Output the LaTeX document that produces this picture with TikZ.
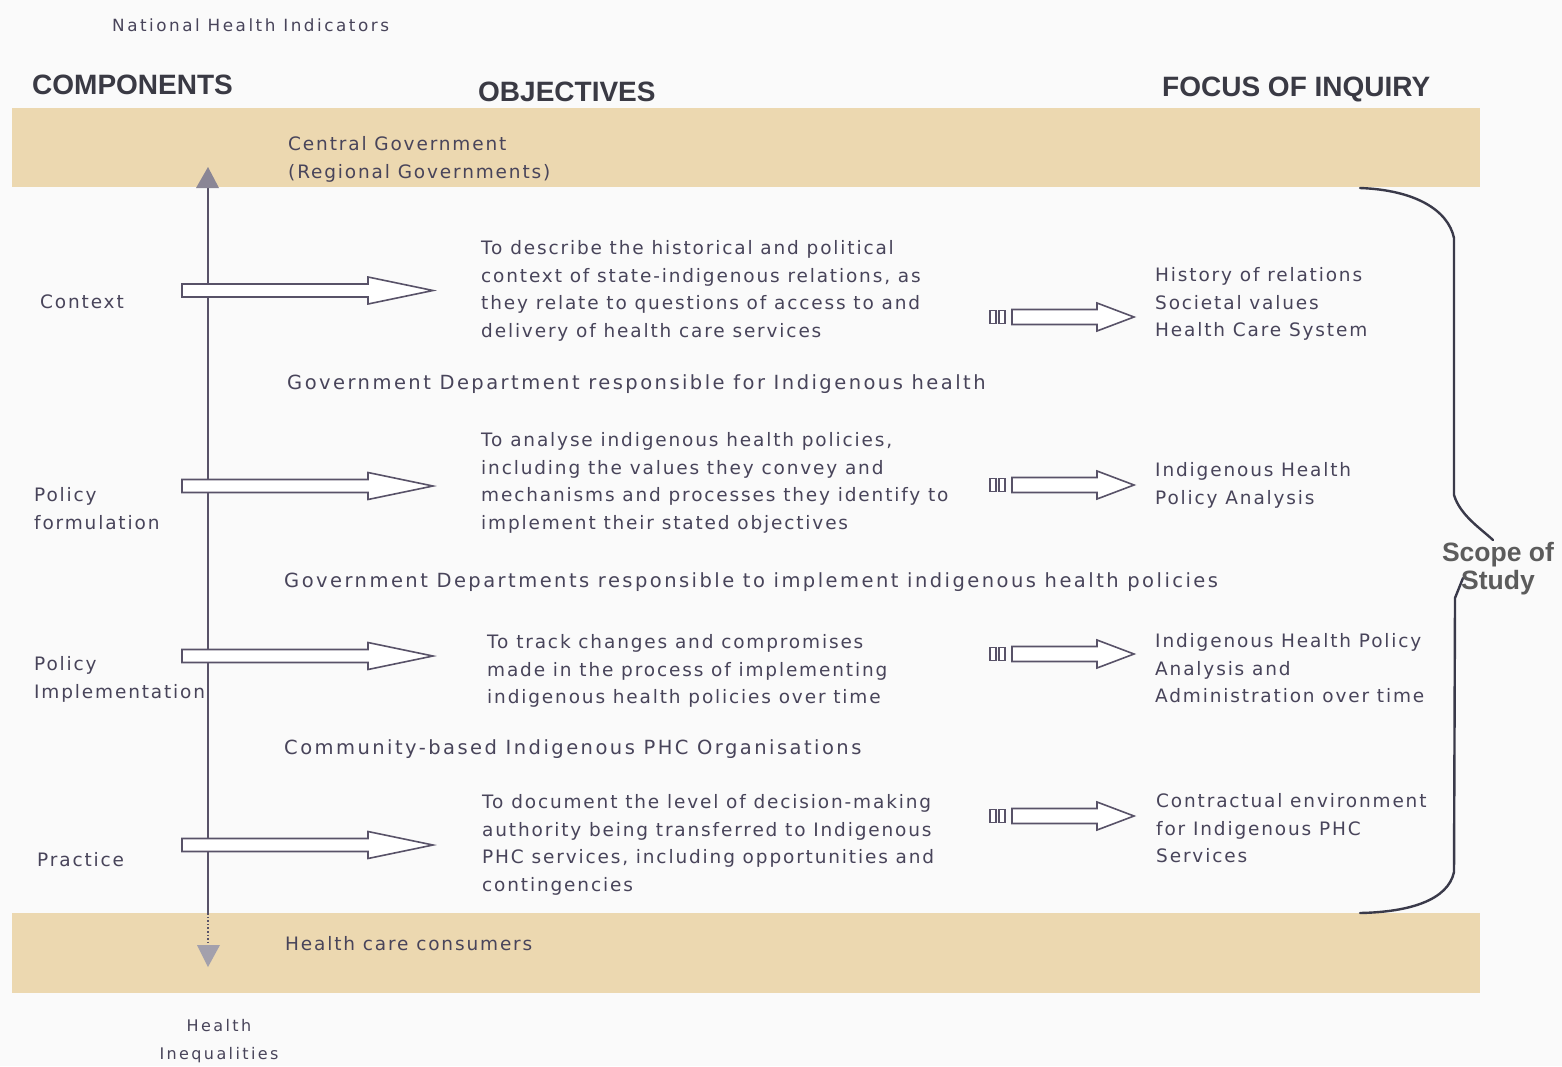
\documentclass[tikz,border=0pt]{standalone}
\usepackage{fontspec}
\setmainfont{DejaVu Sans}
\newfontfamily\txtfont[LetterSpace=10]{DejaVu Sans}
\newfontfamily\widefont[LetterSpace=12.6]{DejaVu Sans}
\newfontfamily\smallfont[LetterSpace=15]{DejaVu Sans}
\newfontfamily\hdfont{Liberation Sans}
\definecolor{txtc}{RGB}{72,68,90}
\definecolor{hdc}{RGB}{58,58,68}
\definecolor{bandc}{RGB}{236,216,176}
\definecolor{bgc}{RGB}{250,250,250}
\definecolor{linec}{RGB}{88,82,104}
\definecolor{bracec}{RGB}{58,58,74}
\newcommand\fstrut{\rule{0pt}{15pt}}
\newcommand\bigarr[2]{%
  \draw[hollow] (182,{#1-6.5}) coordinate (#2) -- (368,{#1-6.5}) -- (368,{#1-13.5}) -- (433,#1) -- (368,{#1+13.5}) -- (368,{#1+6.5}) -- (182,{#1+6.5}) -- cycle;}
\newcommand\smallarr[2]{%
  \draw[hollow] (990,{#1-6.5}) coordinate (#2) rectangle (996,{#1+6.5});
  \draw[hollow] (999,{#1-6.5}) rectangle (1005,{#1+6.5});
  \draw[hollow] (1012,{#1-7.5}) -- (1097,{#1-7.5}) -- (1097,{#1-14}) -- (1134,#1) -- (1097,{#1+14}) -- (1097,{#1+7.5}) -- (1012,{#1+7.5}) -- cycle;}
\begin{document}
\begin{tikzpicture}[x=1pt,y=-1pt,
  txt/.style={font=\txtfont\fontsize{18.5}{27.8}\selectfont, text=txtc, inner sep=0pt, anchor=north west, align=left},
  wide/.style={font=\widefont\fontsize{19.5}{28}\selectfont, text=txtc, inner sep=0pt, anchor=north west, align=left},
  small/.style={font=\smallfont\fontsize{16.8}{28}\selectfont, text=txtc, inner sep=0pt},
  head/.style={font=\hdfont\bfseries\fontsize{28}{30}\selectfont, text=hdc, inner sep=0pt, anchor=base west},
  hollow/.style={draw=linec, fill=white, line width=1.6pt, line join=miter},
  axis/.style={draw=linec, line width=1.8pt},
  brace/.style={draw=bracec, line width=2.4pt, line cap=round}]
\useasboundingbox (0,0) rectangle (1562,1066);
\fill[bgc] (0,0) rectangle (1562,1066);
% bands
\fill[bandc] (12,108) rectangle (1480,187);
\fill[bandc] (12,913) rectangle (1480,993);
% vertical axis
\coordinate (axtop) at (208,188);
\coordinate (axbot) at (208,913);
\coordinate (axend) at (208,945);
\draw[axis] (axtop) -- (axbot);
\draw[axis, line width=1.6pt, dotted] (axbot) -- (axend);
\fill[linec!70] (196,188) -- (208,167) -- (219,188) -- cycle;
\fill[linec!55] (197,945) -- (220,945) -- (208,967) -- cycle;
% big hollow arrows
\bigarr{290.5}{a1}
\bigarr{486}{a2}
\bigarr{656}{a3}
\bigarr{845}{a4}
% small hollow arrows
\smallarr{317}{s1}
\smallarr{485}{s2}
\smallarr{654}{s3}
\smallarr{816}{s4}
% brace
\coordinate (bt) at (1360,188);
\coordinate (bb) at (1360,913);
\draw[brace] (bt) .. controls (1415,190) and (1448,210) .. (1454,238) -- (1454,495) .. controls (1460,515) and (1480,528) .. (1493,540);
\draw[brace] (1463,578) -- (1455,598) -- (1454,872) .. controls (1448,900) and (1410,912) .. (bb);
% headings
\node[small, anchor=base west] (nhi) at (112,31) {National Health Indicators};
\node[head] (hcomp) at (32,94) {COMPONENTS};
\node[head] (hobj) at (478,101) {OBJECTIVES};
\node[head] (hfoc) at (1162,96) {FOCUS OF INQUIRY};
% band labels
\node[txt] (central) at (288,135) {\fstrut Central Government\\(Regional Governments)};
\node[txt] (hcc) at (285,935) {\fstrut Health care consumers};
% components
\node[txt] (ctx) at (40,293) {\fstrut Context};
\node[txt] (pf) at (34,486) {\fstrut Policy\\formulation};
\node[txt] (pi) at (34,655) {\fstrut Policy\\Implementation};
\node[txt] (prac) at (37,851) {\fstrut Practice};
% separators
\node[wide] (dept1) at (287,374) {\fstrut Government Department responsible for Indigenous health};
\node[wide] (dept2) at (284,572) {\fstrut Government Departments responsible to implement indigenous health policies};
\node[wide] (comm) at (284,739) {\fstrut Community-based Indigenous PHC Organisations};
% objectives
\node[txt] (obj1) at (481,239) {\fstrut To describe the historical and political\\context of state-indigenous relations, as\\they relate to questions of access to and\\delivery of health care services};
\node[txt] (obj2) at (481,431) {\fstrut To analyse indigenous health policies,\\including the values they convey and\\mechanisms and processes they identify to\\implement their stated objectives};
\node[txt] (obj3) at (487,633) {\fstrut To track changes and compromises\\made in the process of implementing\\indigenous health policies over time};
\node[txt] (obj4) at (482,793) {\fstrut To document the level of decision-making\\authority being transferred to Indigenous\\PHC services, including opportunities and\\contingencies};
% focus
\node[txt] (foc1) at (1155,266) {\fstrut History of relations\\Societal values\\Health Care System};
\node[txt] (foc2) at (1155,461) {\fstrut Indigenous Health\\Policy Analysis};
\node[txt] (foc3) at (1155,632) {\fstrut Indigenous Health Policy\\Analysis and\\Administration over time};
\node[txt] (foc4) at (1156,792) {\fstrut Contractual environment\\for Indigenous PHC\\Services};
% bottom
\node[small, anchor=north, align=center, font=\smallfont\fontsize{16}{28}\selectfont] (hi) at (219,1018) {\rule{0pt}{13.5pt}Health\\Inequalities};
% scope
\node[font=\hdfont\bfseries\fontsize{26.5}{28}\selectfont, text=black!64, align=center, inner sep=0pt] (scope) at (1498,569) {Scope of\\Study};
\end{tikzpicture}
\end{document}
